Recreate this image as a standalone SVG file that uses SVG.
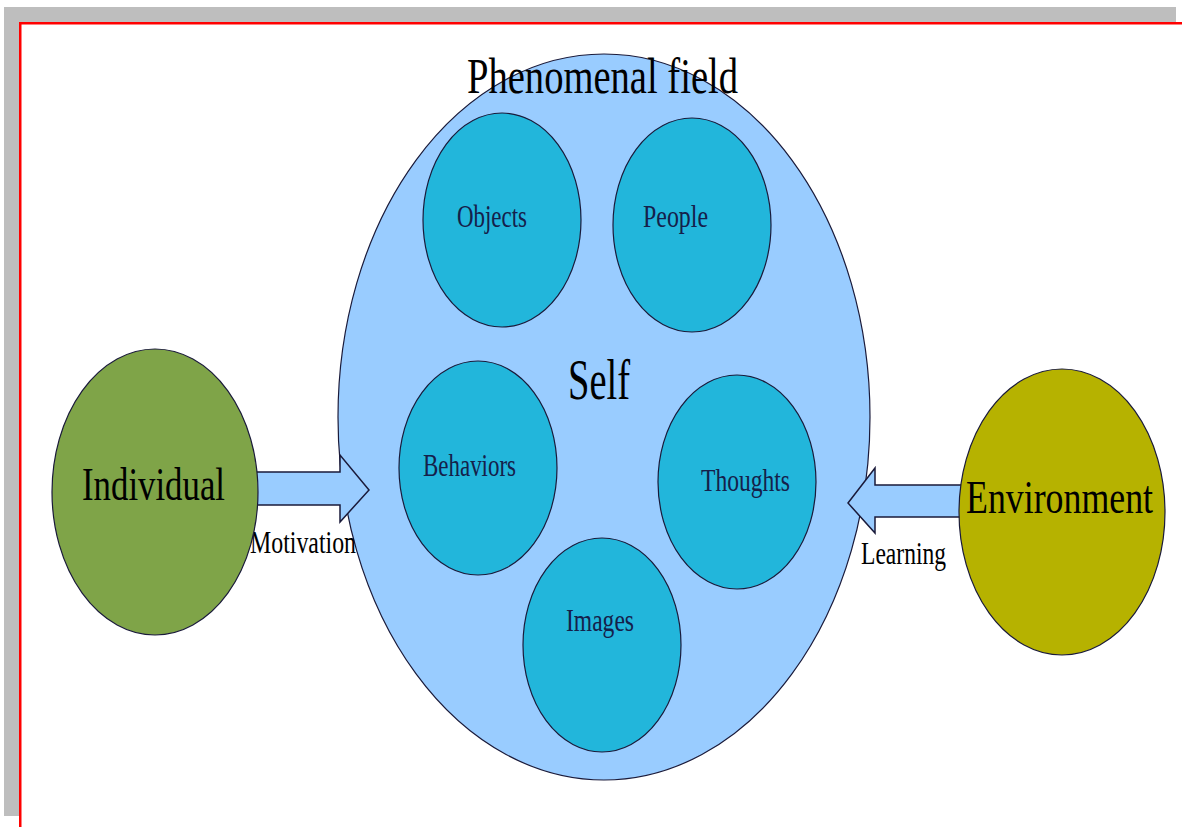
<svg xmlns="http://www.w3.org/2000/svg" width="1182" height="827" viewBox="0 0 1182 827">
<style>
text{font-family:"Liberation Serif","Times New Roman",serif;}
.st{stroke:#1a1a3a;stroke-width:1.2;}
.inner{fill:#22b6db;}
.lbl{font-size:32px;fill:#15204a;}
.arrow{fill:#99ccff;stroke:#1a1a3a;stroke-width:1.5;}
</style>
<rect x="0" y="0" width="1182" height="827" fill="#ffffff"/>
<rect x="4" y="7" width="1172" height="16" fill="#bebebe"/>
<rect x="4" y="7" width="16" height="809" fill="#bebebe"/>
<rect x="19" y="22" width="1163" height="2.5" fill="#ff0000"/>
<rect x="19" y="22" width="2.5" height="805" fill="#ff0000"/>
<g id="field">
<ellipse cx="604" cy="417" rx="266" ry="363" fill="#99ccff" class="st"/>
<text x="467" y="93" font-size="50" textLength="271" lengthAdjust="spacingAndGlyphs" fill="#000">Phenomenal field</text>
<text x="568" y="399" font-size="56" textLength="62" lengthAdjust="spacingAndGlyphs" fill="#000">Self</text>
</g>
<g id="objects">
<ellipse cx="502" cy="220" rx="79" ry="107" class="inner st"/>
<text class="lbl" x="457" y="227" textLength="70" lengthAdjust="spacingAndGlyphs">Objects</text>
</g>
<g id="people">
<ellipse cx="692" cy="225" rx="79" ry="107" class="inner st"/>
<text class="lbl" x="643" y="227" textLength="65" lengthAdjust="spacingAndGlyphs">People</text>
</g>
<g id="behaviors">
<ellipse cx="478" cy="468" rx="79" ry="107" class="inner st"/>
<text class="lbl" x="423" y="476" textLength="93" lengthAdjust="spacingAndGlyphs">Behaviors</text>
</g>
<g id="thoughts">
<ellipse cx="737" cy="482" rx="79" ry="107" class="inner st"/>
<text class="lbl" x="701" y="491" textLength="89" lengthAdjust="spacingAndGlyphs">Thoughts</text>
</g>
<g id="images">
<ellipse cx="602" cy="645" rx="79" ry="107" class="inner st"/>
<text class="lbl" x="566" y="631" textLength="68" lengthAdjust="spacingAndGlyphs">Images</text>
</g>
<g id="connectors">
<path class="arrow" d="M230,472 L340,472 L340,455 L369,490 L340,522 L340,505 L230,505 Z"/>
<path class="arrow" d="M990,485 L875,485 L875,468 L848,503 L875,533 L875,517 L990,517 Z"/>
<text x="250" y="553" font-size="32" textLength="106" lengthAdjust="spacingAndGlyphs" fill="#000">Motivation</text>
<text x="861" y="564" font-size="32" textLength="85" lengthAdjust="spacingAndGlyphs" fill="#000">Learning</text>
</g>
<g id="individual">
<ellipse cx="155" cy="492" rx="103" ry="143" fill="#7fa448" class="st"/>
<text x="82" y="500" font-size="46" textLength="143" lengthAdjust="spacingAndGlyphs" fill="#000">Individual</text>
</g>
<g id="environment">
<ellipse cx="1062" cy="512" rx="103" ry="143" fill="#b6b200" class="st"/>
<text x="966" y="513" font-size="46" textLength="187" lengthAdjust="spacingAndGlyphs" fill="#000">Environment</text>
</g>
</svg>
